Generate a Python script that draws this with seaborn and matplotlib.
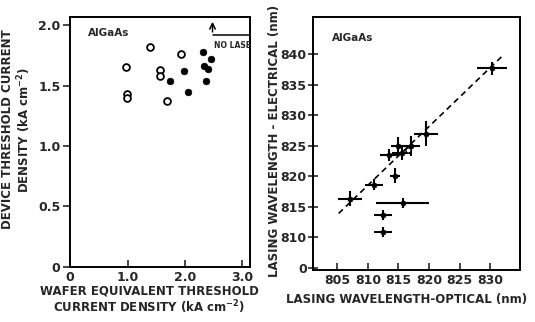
import numpy as np
import pandas as pd
import seaborn as sns
import matplotlib.pyplot as plt

# left panel: device vs wafer threshold current density (kA cm-2)
open_x = [0.98, 0.99, 0.99, 1.39, 1.56, 1.56, 1.68, 1.93]
open_y = [1.65, 1.43, 1.40, 1.82, 1.63, 1.58, 1.37, 1.76]
filled_x = [1.74, 1.99, 2.06, 2.32, 2.45, 2.33, 2.41, 2.37]
filled_y = [1.54, 1.62, 1.45, 1.78, 1.72, 1.66, 1.64, 1.54]

# right panel: lasing wavelength electrical vs optical (nm)
opt = [807.1, 811.0, 812.5, 812.5, 814.4, 815.7, 813.5, 815.0, 815.5, 817.0, 819.5, 830.3]
elec = [816.3, 818.6, 813.7, 810.9, 820.1, 815.6, 823.5, 825.0, 823.8, 825.0, 827.0, 837.7]
opt_err = [2.0, 1.4, 1.5, 1.5, 0.8, 4.3, 1.5, 1.3, 1.5, 1.6, 1.9, 2.5]
elec_err = [1.2, 0.9, 0.8, 0.8, 1.2, 0.8, 1.0, 1.5, 1.2, 1.6, 2.0, 1.1]
open_opt = [816.5]
open_elec = [824.3]
fit_opt = [805.2, 832.3]
fit_elec = [813.9, 840.0]

left_xticks = [0, 1.0, 2.0, 3.0]
left_xlabels = ["0", "1.0", "2.0", "3.0"]
left_yticks = [0, 0.5, 1.0, 1.5, 2.0]
left_ylabels = ["0", "0.5", "1.0", "1.5", "2.0"]
right_xticks = [805, 810, 815, 820, 825, 830]
right_yticks = [805, 810, 815, 820, 825, 830, 835, 840]
right_ylabels = ["0", "810", "815", "820", "825", "830", "835", "840"]

sns.set_style("ticks")
plt.rcParams['font.family'] = ['DejaVu Sans']
plt.rcParams['font.weight'] = 'bold'

fig = plt.figure(figsize=(5.35, 3.22), dpi=100)
ax1 = fig.add_axes([0.131, 0.171, 0.336, 0.776])
ax2 = fig.add_axes([0.585, 0.161, 0.387, 0.786])

fs = 8.5

# ---- left panel
sns.scatterplot(x=open_x, y=open_y, ax=ax1, marker='o', s=24,
                facecolor='white', edgecolor='k', linewidth=1.3)
sns.scatterplot(x=filled_x, y=filled_y, ax=ax1, marker='o', s=24,
                color='k', edgecolor='k')
ax1.set_xlim(0, 3.13)
ax1.set_ylim(0, 2.066)
ax1.set_xticks(left_xticks, left_xlabels)
ax1.set_yticks(left_yticks, left_ylabels)
ax1.tick_params(axis='x', direction='in', length=5, width=1.2, labelsize=fs + 0.5, pad=3)
ax1.tick_params(axis='y', direction='out', length=5, width=1.2, labelsize=fs + 0.5, pad=2)
ax1.text(0.31, 1.934, "AlGaAs", fontsize=7.5, fontweight='bold', va='center')
# NO LASE bracket
ax1.annotate("", xy=(2.48, 2.05), xytext=(2.48, 1.92),
             arrowprops=dict(arrowstyle='->', color='k', lw=1.1))
ax1.plot([2.48, 3.13], [1.92, 1.92], color='k', lw=1.1)
ax1.text(2.5, 1.835, "NO LASE", fontsize=5.5, fontweight='bold',
         va='center', clip_on=True)
ax1.set_xlabel("WAFER EQUIVALENT THRESHOLD\nCURRENT DENSITY (kA cm$^{-2}$)",
               fontsize=fs, fontweight='bold', linespacing=1.1)
ax1.set_ylabel("DEVICE THRESHOLD CURRENT\nDENSITY (kA cm$^{-2}$)",
               fontsize=fs, fontweight='bold', linespacing=1.1)
ax1.xaxis.set_label_coords(0.44, -0.07)
ax1.yaxis.set_label_coords(-0.205, 0.55)

# ---- right panel
sns.lineplot(x=fit_opt, y=fit_elec, ax=ax2, color='k', lw=1.2, dashes=(3.5, 2.5))
ax2.errorbar(opt, elec, xerr=opt_err, yerr=elec_err, fmt='none',
             ecolor='k', elinewidth=1.5, capsize=0)
sns.scatterplot(x=opt, y=elec, ax=ax2, marker='o', s=14, color='k', edgecolor='k')
sns.scatterplot(x=open_opt, y=open_elec, ax=ax2, marker='o', s=14,
                facecolor='white', edgecolor='k', linewidth=1.0, zorder=5)
ax2.set_xlim(801.0, 834.9)
ax2.set_ylim(804.6, 846.1)
ax2.set_xticks(right_xticks)
ax2.set_yticks(right_yticks, right_ylabels)
ax2.tick_params(axis='x', direction='in', length=5, width=1.2, labelsize=fs + 0.5, pad=3)
ax2.tick_params(axis='y', direction='inout', length=7, width=1.2, labelsize=fs + 0.5, pad=1)
ax2.text(804.1, 842.6, "AlGaAs", fontsize=7.5, fontweight='bold', va='center')
ax2.set_xlabel("LASING WAVELENGTH-OPTICAL (nm)", fontsize=fs, fontweight='bold')
ax2.set_ylabel("LASING WAVELENGTH - ELECTRICAL (nm)", fontsize=fs, fontweight='bold')
ax2.xaxis.set_label_coords(0.45, -0.09)
ax2.yaxis.set_label_coords(-0.155, 0.51)

for ax in (ax1, ax2):
    for sp in ax.spines.values():
        sp.set_linewidth(1.4)
        sp.set_color('k')

fig.savefig("out.png", dpi=100)
